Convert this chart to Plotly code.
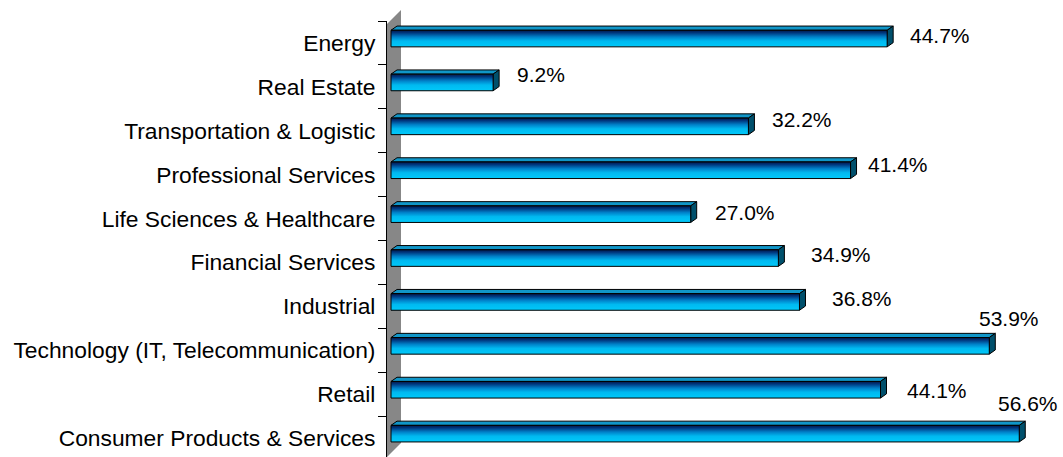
import plotly.graph_objects as go

# ---- data ----
categories = [
    "Energy",
    "Real Estate",
    "Transportation & Logistic",
    "Professional Services",
    "Life Sciences & Healthcare",
    "Financial Services",
    "Industrial",
    "Technology (IT, Telecommunication)",
    "Retail",
    "Consumer Products & Services",
]
values = [44.7, 9.2, 32.2, 41.4, 27.0, 34.9, 36.8, 53.9, 44.1, 56.6]
value_labels = ["44.7%", "9.2%", "32.2%", "41.4%", "27.0%", "34.9%", "36.8%", "53.9%", "44.1%", "56.6%"]

# ---- style / layout (pixels) ----
label_dx = [21, 22, 22, 15, 22, 31, 31, -12, 24, -23]
label_dy = [7.5, 12, 11, 10.5, 6.5, 7.5, 8, 32, 4, 35]

W, H = 1063, 457
ML, MR, MT, MB = 387, 0, 21, 0
PW, PH = W - ML - MR, H - MT - MB
PX_X = 11.1      # px per percent
PX_Y = 43.9      # px per category
X0 = -(391 - 387) / PX_X
XR = [X0, X0 + PW / PX_X]
YR = [9.5 - PH / PX_Y, 9.5]

n = len(categories)
ypos = [n - 1 - i for i in range(n)]

ddx = 6 / PX_X
ddy = 4.2 / PX_Y
front_top = 12.7 / PX_Y
front_bot = 3.9 / PX_Y

front_scale = [[0, "#00c9fa"], [0.35, "#00b9f0"], [0.6, "#0080c8"],
               [0.85, "#00357c"], [1, "#001848"]]
top_color = "#1096c8"
side_color = "#00506c"

fig = go.Figure()

for v, c in zip(values, ypos):
    yt = c + front_top
    yb = c - front_bot
    # top face
    fig.add_trace(go.Scatter(
        x=[0, v, v + ddx, ddx, 0], y=[yt, yt, yt + ddy, yt + ddy, yt],
        mode="lines", fill="toself", fillcolor=top_color,
        line=dict(color="black", width=1), hoverinfo="skip", showlegend=False))
    # side face
    fig.add_trace(go.Scatter(
        x=[v, v, v + ddx, v + ddx, v], y=[yb, yt, yt + ddy, yb + ddy, yb],
        mode="lines", fill="toself", fillcolor=side_color,
        line=dict(color="black", width=1), hoverinfo="skip", showlegend=False))
    # front face
    fig.add_trace(go.Scatter(
        x=[0, v, v, 0, 0], y=[yb, yb, yt, yt, yb],
        mode="lines", fill="toself",
        fillgradient=dict(type="vertical", colorscale=front_scale),
        line=dict(color="black", width=1), hoverinfo="skip", showlegend=False))

for v, c, t, dx, dy in zip(values, ypos, value_labels, label_dx, label_dy):
    fig.add_annotation(x=v, y=c, text=t, showarrow=False, xanchor="left", yanchor="middle",
                       xshift=dx, yshift=dy,
                       font=dict(family="Liberation Sans, Arial", size=21, color="black"))

# wall (paper coordinates from pixels)
def px(x):
    return (x - ML) / PW

def py(y):
    return (H - MB - y) / PH

wall = [(387, 24), (401, 10), (401, 443), (387, 457)]
path = "M " + " L ".join(f"{px(a):.5f},{py(b):.5f}" for a, b in wall) + " Z"
fig.add_shape(type="path", path=path, xref="paper", yref="paper",
              fillcolor="#878787", line=dict(width=0), layer="below")

fig.update_layout(
    width=W, height=H,
    margin=dict(l=ML, r=MR, t=MT, b=MB),
    paper_bgcolor="white", plot_bgcolor="white",
    showlegend=False,
    xaxis=dict(range=XR, visible=False, fixedrange=True),
    yaxis=dict(range=YR, tickmode="array", tickvals=ypos, ticktext=categories,
               ticks="", showgrid=False, zeroline=False,
               showline=True, linecolor="black", linewidth=1,
               ticklabelstandoff=6,
               tickfont=dict(family="Liberation Sans, Arial", size=22.8, color="black"),
               minor=dict(tickmode="array", tickvals=[k + 0.5 for k in range(-1, n)],
                          ticks="outside", ticklen=8, tickcolor="black", tickwidth=1,
                          showgrid=False),
               fixedrange=True),
)

fig.write_html("out.html")
